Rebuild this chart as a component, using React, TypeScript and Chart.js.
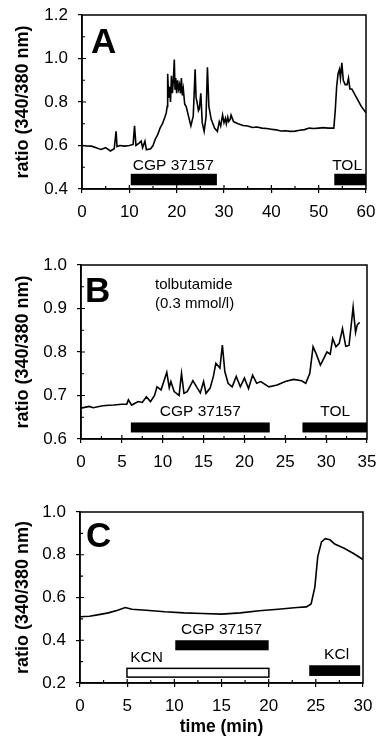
import React, { useEffect, useRef } from "react";
import { Chart, registerables } from "chart.js";
Chart.register(...registerables);

const W = 378;
const FONT = "'Liberation Sans', Arial, Helvetica, sans-serif";

// ---------- Panel A data ----------
const aTime = [0, 1, 2, 3, 4, 5, 6, 6.8, 7.2, 7.4, 8, 9, 10, 10.8, 11.1, 11.4, 12, 12.5, 12.8, 13.3, 13.6, 14.5, 15, 15.5, 16, 16.5, 17, 17.5, 17.8, 18.0, 18.1, 18.3, 18.5, 18.7, 18.9, 19.1, 19.3, 19.5, 19.65, 19.8, 20.0, 20.2, 20.4, 20.6, 20.8, 21.0, 21.2, 21.4, 21.7, 22, 22.5, 23, 23.5, 23.9, 24.1, 24.3, 24.6, 24.8, 25.1, 25.4, 25.8, 26.2, 26.5, 26.8, 27.3, 28, 28.6, 29, 29.3, 29.7, 30, 30.3, 30.5, 30.8, 31, 31.3, 31.5, 32, 32.5, 33, 34, 35, 36, 37, 38, 39, 40, 41, 42, 43, 44, 45, 46, 47, 48, 49, 50, 51, 52, 53.2, 53.5, 53.8, 54.1, 54.4, 54.6, 54.9, 55.2, 55.6, 56, 56.3, 56.6, 57, 58, 59, 60];
const aRatio = [0.600, 0.598, 0.597, 0.590, 0.582, 0.590, 0.575, 0.585, 0.665, 0.595, 0.600, 0.597, 0.600, 0.605, 0.690, 0.600, 0.610, 0.620, 0.590, 0.620, 0.580, 0.585, 0.600, 0.630, 0.650, 0.680, 0.700, 0.730, 0.750, 0.780, 0.930, 0.820, 0.870, 0.800, 0.920, 0.840, 0.900, 0.995, 0.860, 0.910, 0.840, 0.900, 0.860, 0.880, 0.840, 0.910, 0.830, 0.860, 0.790, 0.780, 0.735, 0.690, 0.735, 0.950, 0.820, 0.800, 0.760, 0.770, 0.840, 0.705, 0.665, 0.730, 0.960, 0.780, 0.720, 0.680, 0.665, 0.710, 0.690, 0.740, 0.705, 0.725, 0.700, 0.730, 0.710, 0.720, 0.740, 0.710, 0.705, 0.700, 0.692, 0.690, 0.683, 0.685, 0.680, 0.678, 0.675, 0.672, 0.667, 0.668, 0.665, 0.666, 0.670, 0.673, 0.680, 0.678, 0.680, 0.682, 0.680, 0.680, 0.760, 0.870, 0.930, 0.950, 0.910, 0.980, 0.900, 0.880, 0.880, 0.910, 0.860, 0.860, 0.820, 0.780, 0.750];
const aXTicks = [0, 10, 20, 30, 40, 50, 60];
const aYTicks = [0.4, 0.6, 0.8, 1.0, 1.2];
const aTreatLabels = ["CGP 37157", "TOL"];
const aTreatStart = [10.3, 53.3];
const aTreatEnd = [28.5, 60];
const aLabelX = [19.3, 56];

// ---------- Panel B data ----------
const bTime = [0, 1, 1.5, 2.5, 3, 4, 5, 5.6, 5.8, 6.2, 7, 7.5, 8, 8.5, 9, 9.3, 9.8, 10.2, 10.5, 10.8, 11, 11.4, 12, 12.3, 12.6, 13, 13.7, 14.2, 14.6, 15, 15.3, 15.8, 16.2, 16.5, 17, 17.3, 17.6, 18, 18.5, 19, 19.5, 20, 20.5, 21, 21.5, 22, 23, 24, 25, 26, 27, 27.5, 28, 28.4, 28.8, 29.3, 29.7, 30.1, 30.5, 30.8, 31.2, 31.6, 32, 32.4, 32.8, 33.3, 33.6, 33.8, 34.1];
const bRatio = [0.671, 0.675, 0.672, 0.676, 0.677, 0.678, 0.680, 0.680, 0.690, 0.678, 0.686, 0.684, 0.697, 0.686, 0.700, 0.720, 0.713, 0.736, 0.753, 0.718, 0.732, 0.709, 0.700, 0.751, 0.705, 0.709, 0.734, 0.718, 0.706, 0.732, 0.705, 0.717, 0.744, 0.774, 0.763, 0.816, 0.755, 0.728, 0.720, 0.744, 0.720, 0.740, 0.716, 0.747, 0.728, 0.732, 0.720, 0.724, 0.732, 0.737, 0.734, 0.728, 0.751, 0.812, 0.795, 0.770, 0.785, 0.800, 0.795, 0.831, 0.812, 0.820, 0.854, 0.813, 0.815, 0.903, 0.845, 0.862, 0.868];
const bXTicks = [0, 5, 10, 15, 20, 25, 30, 35];
const bYTicks = [0.6, 0.7, 0.8, 0.9, 1.0];
const bTreatLabels = ["CGP 37157", "TOL"];
const bTreatStart = [6.1, 27.1];
const bTreatEnd = [23.1, 35];
const bLabelX = [14.6, 31.1];
const bNote = ["tolbutamide", "(0.3 mmol/l)"];

// ---------- Panel C data ----------
const cTime = [0, 1, 2, 3, 4, 4.8, 5.5, 7, 9, 11, 13, 15, 17, 19, 21, 23, 24, 24.5, 24.9, 25.2, 25.6, 26, 26.5, 27, 28, 29, 30];
const cRatio = [0.510, 0.512, 0.520, 0.528, 0.540, 0.553, 0.545, 0.540, 0.533, 0.528, 0.525, 0.522, 0.528, 0.538, 0.545, 0.553, 0.556, 0.570, 0.650, 0.790, 0.860, 0.875, 0.870, 0.850, 0.830, 0.806, 0.778];
const cXTicks = [0, 5, 10, 15, 20, 25, 30];
const cYTicks = [0.2, 0.4, 0.6, 0.8, 1.0];
const cTreatLabels = ["CGP 37157", "KCN", "KCl"];
const cTreatStart = [10.1, 4.9, 24.3];
const cTreatEnd = [20, 20.1, 29.7];
const cLabelX = [15, 7.05, 27.2];

type Treat = { label: string; start: number; end: number; lx: number; y0: number; y1: number; filled: boolean; gap: number };
type Cfg = {
  letter: string; letterDx: number; letterDy: number;
  offsetY: number; height: number; top: number; bottom: number; left: number; right: number;
  time: number[]; ratio: number[]; xTicks: number[]; yTicks: number[];
  xMinor: number; yMinor: number; yDecimals: number;
  treats: Treat[]; notes?: string[]; noteDx?: number; noteDy?: number[];
  xTitle: boolean;
};

const mkTreats = (labels: string[], s: number[], e: number[], lx: number[], y0: number[], y1: number[], filled: boolean[], gap: number): Treat[] =>
  labels.map((label, i) => ({ label, start: s[i], end: e[i], lx: lx[i], y0: y0[i], y1: y1[i], filled: filled[i], gap }));

const panels: Cfg[] = [
  {
    letter: "A", letterDx: 9, letterDy: 38, offsetY: 0, height: 240, top: 15, bottom: 189, left: 82, right: 366,
    time: aTime, ratio: aRatio, xTicks: aXTicks, yTicks: aYTicks, xMinor: 5, yMinor: 0.1, yDecimals: 1,
    treats: mkTreats(aTreatLabels, aTreatStart, aTreatEnd, aLabelX, [0.417, 0.417], [0.47, 0.47], [true, true], 4),
    xTitle: false,
  },
  {
    letter: "B", letterDx: 4, letterDy: 37, offsetY: 240, height: 250, top: 25, bottom: 199, left: 81, right: 367,
    time: bTime, ratio: bRatio, xTicks: bXTicks, yTicks: bYTicks, xMinor: 2.5, yMinor: 0.05, yDecimals: 1,
    treats: mkTreats(bTreatLabels, bTreatStart, bTreatEnd, bLabelX, [0.615, 0.615], [0.638, 0.638], [true, true], 6),
    notes: bNote, noteDx: 74, noteDy: [24, 43],
    xTitle: false,
  },
  {
    letter: "C", letterDx: 6, letterDy: 35, offsetY: 490, height: 256, top: 22, bottom: 193, left: 80, right: 363,
    time: cTime, ratio: cRatio, xTicks: cXTicks, yTicks: cYTicks, xMinor: 2.5, yMinor: 0.1, yDecimals: 1,
    treats: mkTreats(cTreatLabels, cTreatStart, cTreatEnd, cLabelX, [0.353, 0.224, 0.233], [0.4, 0.272, 0.283], [true, false, true], 6),
    xTitle: true,
  },
];

function decorPlugin(cfg: Cfg) {
  return {
    id: "decor" + cfg.letter,
    afterDatasetsDraw(chart: any) {
      const { ctx, chartArea: ca, scales } = chart;
      const xs = scales.x, ys = scales.y;
      ctx.save();
      ctx.strokeStyle = "#000";
      ctx.lineWidth = 1.5;
      ctx.strokeRect(ca.left, ca.top, ca.right - ca.left, ca.bottom - ca.top);
      ctx.lineWidth = 1.2;
      ctx.beginPath();
      for (let v = xs.min; v <= xs.max + 1e-9; v += cfg.xMinor) {
        const px = xs.getPixelForValue(v);
        const major = cfg.xTicks.some((t) => Math.abs(t - v) < 1e-6);
        if (px <= ca.left + 0.5 || px >= ca.right - 0.5) continue;
        ctx.moveTo(px, ca.bottom);
        ctx.lineTo(px, ca.bottom - (major ? 4 : 3));
      }
      for (let v = ys.min; v <= ys.max + 1e-9; v += cfg.yMinor) {
        const py = ys.getPixelForValue(v);
        const major = cfg.yTicks.some((t) => Math.abs(t - v) < 1e-6);
        if (py >= ca.bottom - 0.5 || py <= ca.top + 0.5) continue;
        ctx.moveTo(ca.left, py);
        ctx.lineTo(ca.left + (major ? 4 : 3), py);
      }
      ctx.stroke();
      ctx.font = `15.5px ${FONT}`;
      ctx.fillStyle = "#000";
      ctx.textAlign = "center";
      ctx.textBaseline = "alphabetic";
      cfg.treats.forEach((t) => {
        const x0 = xs.getPixelForValue(t.start);
        const x1 = Math.min(xs.getPixelForValue(t.end), ca.right);
        const yTop = ys.getPixelForValue(t.y1);
        const yBot = ys.getPixelForValue(t.y0);
        if (t.filled) {
          ctx.fillStyle = "#000";
          ctx.fillRect(x0, yTop, x1 - x0, yBot - yTop);
        } else {
          ctx.fillStyle = "#fff";
          ctx.fillRect(x0, yTop, x1 - x0, yBot - yTop);
          ctx.lineWidth = 1.5;
          ctx.strokeStyle = "#000";
          ctx.strokeRect(x0 + 0.75, yTop + 0.75, x1 - x0 - 1.5, yBot - yTop - 1.5);
        }
        ctx.fillStyle = "#000";
        ctx.fillText(t.label, xs.getPixelForValue(t.lx), yTop - t.gap);
      });
      if (cfg.notes) {
        ctx.textAlign = "left";
        ctx.font = `15px ${FONT}`;
        cfg.notes.forEach((n, i) => ctx.fillText(n, ca.left + (cfg.noteDx || 0), ca.top + (cfg.noteDy ? cfg.noteDy[i] : 0)));
      }
      ctx.textAlign = "left";
      ctx.font = `bold 35px ${FONT}`;
      ctx.fillText(cfg.letter, ca.left + cfg.letterDx, ca.top + cfg.letterDy);
      ctx.restore();
    },
  };
}

function Panel({ cfg }: { cfg: Cfg }) {
  const ref = useRef<HTMLCanvasElement>(null);
  useEffect(() => {
    const points = cfg.time.map((t, i) => ({ x: t, y: cfg.ratio[i] }));
    const chart = new Chart(ref.current as HTMLCanvasElement, {
      type: "line",
      data: {
        datasets: [
          { data: points, borderColor: "#000", borderWidth: 1.6, pointRadius: 0, tension: 0, fill: false },
        ],
      },
      options: {
        animation: false,
        responsive: false,
        devicePixelRatio: 1,
        events: [],
        layout: { padding: { left: 0, top: cfg.top, right: W - cfg.right, bottom: 0 } },
        plugins: { legend: { display: false }, tooltip: { enabled: false } },
        scales: {
          x: {
            type: "linear",
            min: cfg.xTicks[0],
            max: cfg.xTicks[cfg.xTicks.length - 1],
            afterBuildTicks: (s: any) => {
              s.ticks = cfg.xTicks.map((v) => ({ value: v }));
            },
            afterFit: (s: any) => {
              s.height = cfg.height - cfg.bottom;
              s.paddingLeft = 0;
              s.paddingRight = 0;
              s.paddingTop = 0;
              s.paddingBottom = 0;
            },
            ticks: {
              autoSkip: false,
              maxRotation: 0,
              padding: 9,
              color: "#000",
              font: { family: FONT, size: 17 },
              callback: (v: any) => String(v),
            },
            grid: { drawOnChartArea: false, drawTicks: true, tickLength: 4, color: "#000", lineWidth: 1.2 },
            border: { display: true, color: "#000", width: 1.5 },
            title: {
              display: cfg.xTitle,
              text: "time (min)",
              color: "#000",
              font: { family: FONT, size: 17.5, weight: "bold" },
              padding: { top: 0, bottom: 8 },
            },
          },
          y: {
            type: "linear",
            min: cfg.yTicks[0],
            max: cfg.yTicks[cfg.yTicks.length - 1],
            afterBuildTicks: (s: any) => {
              s.ticks = cfg.yTicks.map((v) => ({ value: v }));
            },
            afterFit: (s: any) => {
              s.width = cfg.left;
              s.paddingLeft = 0;
              s.paddingRight = 0;
              s.paddingTop = 0;
              s.paddingBottom = 0;
            },
            ticks: {
              padding: 10,
              color: "#000",
              font: { family: FONT, size: 17 },
              callback: (v: any) => Number(v).toFixed(cfg.yDecimals),
            },
            grid: { drawOnChartArea: false, drawTicks: true, tickLength: 4, color: "#000", lineWidth: 1.2 },
            border: { display: true, color: "#000", width: 1.5 },
            title: {
              display: true,
              text: "ratio (340/380 nm)",
              color: "#000",
              font: { family: FONT, size: 18, weight: "bold" },
              padding: { top: 12, bottom: 0 },
            },
          },
        },
      },
      plugins: [decorPlugin(cfg)],
    } as any);
    return () => chart.destroy();
  }, [cfg]);
  return (
    <canvas
      ref={ref}
      width={W}
      height={cfg.height}
      style={{ position: "absolute", left: 0, top: cfg.offsetY, width: W, height: cfg.height }}
    />
  );
}

export default function App() {
  return (
    <div style={{ position: "fixed", left: 0, top: 0, width: W, height: 746, background: "#fff", overflow: "hidden" }}>
      {panels.map((p) => (
        <Panel key={p.letter} cfg={p} />
      ))}
    </div>
  );
}
